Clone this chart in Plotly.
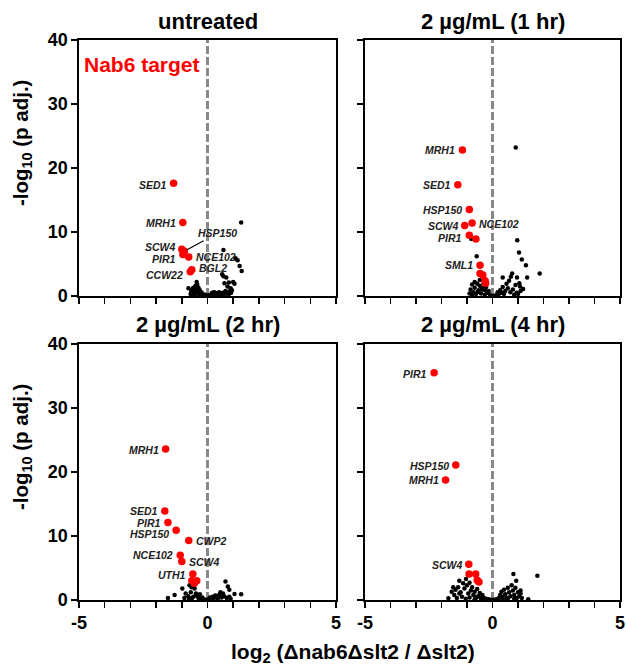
import plotly.graph_objects as go

# ---------------- data ----------------
titles = ["untreated", "2 µg/mL (1 hr)", "2 µg/mL (2 hr)", "2 µg/mL (4 hr)"]
x_tick_vals = [-5, -4, -3, -2, -1, 0, 1, 2, 3, 4, 5]
x_tick_text = ["-5", "", "", "", "", "0", "", "", "", "", "5"]
y_tick_vals = [0, 10, 20, 30, 40]

# untreated
p1_bx = [1.31, 0.62, 1.09, 1.17, 1.25, 1.33, 0.57, 0.73, 0.62, 0.66, 0.83, 1.0, 1.05, 0.78, 0.9, 0.92, 0.95, 0.85,
         0.7, 0.6, 0.5, 0.45, 0.38, 0.3, 0.22, 0.15, 0.08, 0.02, -0.05, -0.1, -0.15, -0.2, -0.25, -0.3, -0.35, -0.4,
         -0.42, -0.46, -0.5, -0.55, -0.57, -0.6, -0.63, -0.66, -0.74, -0.48, -0.38, -0.33, -0.28, -0.52, 0.35, 0.42,
         0.55, 0.65, 0.75, 0.82, -0.45, -0.36, -0.4, -0.5, 0.25, 0.18]
p1_by = [11.5, 7.2, 5.9, 5.6, 4.7, 3.9, 3.4, 2.9, 3.1, 2.0, 2.1, 2.2, 1.9, 1.5, 1.2, 0.5, 0.9, 0.7,
         0.8, 0.5, 0.4, 0.6, 0.3, 0.5, 0.2, 0.3, 0.1, 0.05, 0.1, 0.2, 0.15, 0.4, 0.6, 0.9, 1.3, 1.8,
         2.2, 1.6, 1.0, 0.7, 1.2, 0.4, 0.8, 0.3, 1.2, 0.3, 0.5, 0.2, 0.1, 0.2, 0.1, 0.2,
         0.1, 0.3, 0.4, 0.2, 0.8, 0.9, 1.1, 1.4, 0.6, 0.5]
p1_rx = [-1.32, -0.96, -1.0, -0.9, -0.96, -0.73, -0.67, -0.61]
p1_ry = [17.6, 11.5, 7.3, 7.0, 6.5, 6.1, 3.8, 4.1]
p1_lab = ["SED1", "MRH1", "SCW4", "HSP150", "PIR1", "NCE102", "CCW22", "BGL2"]

# 1 hr
p2_bx = [0.91, -0.62, -0.83, 0.97, 1.04, 1.15, 1.31, 1.85, 1.36, 0.77, 0.72, 0.4, 0.96, 1.08, 1.05, 0.9, 0.6, 0.8,
         1.2, 0.5, 0.35, 0.25, 0.15, 0.05, 0.7, 0.95, 1.1, 0.4, 0.55, 0.65, -0.1, -0.2, -0.3, -0.4, -0.5, -0.6,
         -0.7, -0.8, -0.86, -0.75, -0.65, -0.55, -0.45, -0.35, -0.25, -0.15, -0.9, -0.7, -0.5, -0.42, -0.3, 0.3,
         0.45, 0.85, 1.0, -0.6, -0.8, 0.2]
p2_by = [23.2, 6.2, 8.9, 8.7, 6.8, 5.7, 4.8, 3.5, 2.9, 3.5, 3.0, 2.9, 2.9, 1.5, 2.0, 1.7, 1.2, 1.0,
         1.1, 0.8, 0.5, 0.3, 0.1, 0.05, 0.6, 0.5, 0.8, 1.4, 1.9, 2.4, 0.2, 0.5, 0.9, 1.3, 1.6, 1.9,
         1.3, 1.8, 1.0, 0.6, 0.3, 0.9, 0.4, 2.0, 1.4, 0.8, 0.4, 2.2, 2.5, 1.0, 0.2, 0.9,
         0.3, 0.2, 0.3, 0.6, 0.2, 0.6]
p2_rx = [-1.18, -1.36, -0.91, -0.80, -1.09, -0.91, -0.65, -0.49, -0.49, -0.38, -0.29, -0.27]
p2_ry = [22.8, 17.4, 13.5, 11.4, 11.0, 9.5, 8.9, 4.8, 3.5, 3.3, 2.4, 2.0]
p2_lab = ["MRH1", "SED1", "HSP150", "NCE102", "SCW4", "PIR1", "", "SML1", "", "", "", ""]

# 2 hr
p3_bx = [0.70, 0.79, 0.85, 1.05, 1.31, -0.98, -1.28, -1.54, -0.70, -0.62, -0.47, -0.5, -0.85, -0.75, -0.65, -0.55,
         -0.45, -0.35, -0.25, -0.15, -0.05, 0.05, 0.15, 0.25, 0.35, 0.45, 0.55, 0.6, 0.65, 0.75, 0.5, 0.4, 0.3,
         0.2, 0.85, 0.9, -0.6, -0.4, -0.3, -0.9, -0.72, 0.1, -0.2]
p3_by = [2.9, 2.1, 1.6, 0.94, 0.9, 1.8, 0.8, 0.3, 2.3, 2.0, 2.9, 1.8, 1.0, 0.6, 1.2, 0.5,
         1.0, 0.3, 0.2, 0.1, 0.05, 0.1, 0.2, 0.3, 0.5, 0.8, 0.4, 1.0, 0.6, 0.3, 1.2, 0.2, 0.7,
         0.5, 0.5, 0.2, 0.3, 0.6, 0.9, 0.3, 0.1, 0.4, 0.4]
p3_rx = [-1.63, -1.66, -1.54, -1.22, -0.73, -1.06, -1.0, -0.57, -0.61, -0.42, -0.51]
p3_ry = [23.6, 13.9, 12.1, 10.9, 9.3, 7.0, 6.0, 4.06, 3.0, 3.0, 2.6]
p3_lab = ["MRH1", "SED1", "PIR1", "HSP150", "CWP2", "NCE102", "SCW4", "UTH1", "", "", ""]

# 4 hr
p4_bx = [0.82, 0.93, 1.76, -1.3, -1.04, -1.73, 1.4, -1.6, -1.5, -1.45, -1.35, -1.25, -1.2, -1.1, -1.0, -0.95,
         -0.9, -0.85, -0.8, -0.75, -0.7, -0.65, -0.6, -0.55, -0.5, -0.45, -0.4, -0.35, -0.3, -0.25, -0.15, -0.05,
         -1.15, -0.9, -1.4, -1.3, -0.7, -1.05, -0.6, -1.54, 0.05, 0.15, 0.25, 0.3, 0.35, 0.4, 0.45, 0.5, 0.55,
         0.6, 0.65, 0.7, 0.75, 0.8, 0.85, 0.9, 0.95, 1.0, 1.05, 1.1, 1.15, 0.4, 0.6, 0.85, 1.1]
p4_by = [4.06, 3.0, 3.8, 3.0, 3.3, 0.26, 0.1, 1.3, 0.8, 1.6, 2.0, 1.2, 0.5, 1.8, 2.3, 1.0,
         0.4, 1.5, 2.0, 0.8, 1.3, 0.3, 1.7, 0.6, 1.1, 0.2, 0.8, 0.4, 0.1, 0.2, 0.1, 0.05,
         2.6, 2.7, 0.3, 1.0, 0.1, 0.2, 0.5, 2.0, 0.05, 0.1, 0.3, 0.8, 1.3, 0.5, 1.6, 0.9, 0.3,
         1.9, 1.2, 0.6, 2.3, 1.5, 0.8, 1.9, 0.3, 1.2, 0.6, 1.0, 0.3, 0.1, 0.2, 0.2, 1.5]
p4_rx = [-2.29, -1.44, -1.84, -0.93, -0.92, -0.66, -0.6, -0.53]
p4_ry = [35.5, 21.1, 18.75, 5.6, 4.06, 4.06, 3.1, 2.8]
p4_lab = ["PIR1", "HSP150", "MRH1", "SCW4", "", "", "", ""]

panels = [
    (p1_bx, p1_by, p1_rx, p1_ry, p1_lab),
    (p2_bx, p2_by, p2_rx, p2_ry, p2_lab),
    (p3_bx, p3_by, p3_rx, p3_ry, p3_lab),
    (p4_bx, p4_by, p4_rx, p4_ry, p4_lab),
]

# label placement style: side ('l' / 'r' / 'arrow') and vertical nudge in px, per label
label_style = {
    0: {"SED1": ("l", -2), "MRH1": ("l", -1), "SCW4": ("l", 2), "HSP150": ("arrow", 0), "PIR1": ("l", -5),
        "NCE102": ("r", 0), "CCW22": ("l", -3), "BGL2": ("r", 2)},
    1: {"MRH1": ("l", 0), "SED1": ("l", 0), "HSP150": ("l", 0), "NCE102": ("r", -1), "SCW4": ("l", 0),
        "PIR1": ("l", -3), "SML1": ("l", 0)},
    2: {"MRH1": ("l", -1), "SED1": ("l", 0), "PIR1": ("l", 0), "HSP150": ("l", -4), "CWP2": ("r", -1),
        "NCE102": ("l", 0), "SCW4": ("r", 0), "UTH1": ("l", -1)},
    3: {"PIR1": ("l", -1), "HSP150": ("l", -1), "MRH1": ("l", 0), "SCW4": ("l", -1)},
}

# ---------------- figure ----------------
W, H = 626, 669


def fx(p):
    return p / W


def fy(p):
    return 1 - p / H


FONT = "Liberation Sans, Arial, sans-serif"
LABEL_FONT = dict(family=FONT, size=10.5, color="#222222", weight="bold", style="italic")
fig = go.Figure()

xdoms = [[fx(79), fx(336)], [fx(365), fx(620)], [fx(79), fx(336)], [fx(365), fx(620)]]
ydoms = [[fy(296), fy(40)], [fy(296), fy(40)], [fy(600), fy(344)], [fy(600), fy(344)]]

for i, (bx, by, rx, ry, lab) in enumerate(panels):
    n = i + 1
    xa = "x" if n == 1 else f"x{n}"
    ya = "y" if n == 1 else f"y{n}"
    fig.add_trace(go.Scatter(x=bx, y=by, mode="markers", xaxis=xa, yaxis=ya, cliponaxis=False,
                             marker=dict(color="black", size=4.5), showlegend=False, hoverinfo="skip"))
    fig.add_trace(go.Scatter(x=rx, y=ry, mode="markers", xaxis=xa, yaxis=ya, cliponaxis=False,
                             marker=dict(color="#ff0000", size=7.5), showlegend=False, hoverinfo="skip"))
    for gx, gy, name in zip(rx, ry, lab):
        if not name:
            continue
        side, dy = label_style[i][name]
        if side == "arrow":
            fig.add_annotation(x=gx, y=gy, xref=xa, yref=ya, text=name, showarrow=True,
                               arrowhead=0, arrowwidth=1.2, arrowcolor="black", ax=33, ay=-18, standoff=3,
                               font=LABEL_FONT)
        else:
            fig.add_annotation(x=gx, y=gy, xref=xa, yref=ya, text=name, showarrow=False,
                               xanchor="right" if side == "l" else "left", yanchor="middle",
                               xshift=-5 if side == "l" else 5, yshift=dy, font=LABEL_FONT)

    axis_common = dict(showline=True, linecolor="black", linewidth=1.6, mirror=True, ticks="outside",
                       ticklen=6, tickwidth=1.5, tickcolor="black", showgrid=False, zeroline=False,
                       automargin=False,
                       tickfont=dict(family=FONT, size=18, color="black", weight="bold"))
    xkey = "xaxis" if n == 1 else f"xaxis{n}"
    ykey = "yaxis" if n == 1 else f"yaxis{n}"
    fig.update_layout(**{
        xkey: dict(axis_common, domain=xdoms[i], range=[-5, 5], anchor=ya, tickvals=x_tick_vals,
                   ticktext=x_tick_text, showticklabels=(n >= 3)),
        ykey: dict(axis_common, domain=ydoms[i], range=[0, 40], anchor=xa, tickvals=y_tick_vals,
                   showticklabels=(n in (1, 3))),
    })
    fig.add_shape(type="line", xref=xa, yref=ya, x0=0, x1=0, y0=0, y1=40, layer="below",
                  line=dict(color="#888888", width=3, dash="8px,3px"))
    fig.add_annotation(text=titles[i], xref="paper", yref="paper",
                       x=sum(xdoms[i]) / 2, y=fy(22) if n <= 2 else fy(324),
                       showarrow=False, xanchor="center", yanchor="middle",
                       font=dict(family=FONT, size=22, color="black", weight="bold"))

# Nab6 target key
fig.add_annotation(text="Nab6 target", xref="paper", yref="paper", x=fx(82), y=fy(64),
                   xanchor="left", yanchor="middle", showarrow=False,
                   font=dict(family=FONT, size=21, color="#ff0000", weight="bold"))

# y-axis titles
for yc in (143, 447):
    fig.add_annotation(text="-log<sub>10</sub> (p adj.)", xref="paper", yref="paper", x=fx(22), y=fy(yc),
                       textangle=-90, showarrow=False, xanchor="center", yanchor="middle",
                       font=dict(family=FONT, size=20.5, color="black", weight="bold"))

# x-axis title
fig.add_annotation(text="log<sub>2</sub> (Δnab6Δslt2 / Δslt2)", xref="paper", yref="paper",
                   x=fx(353), y=fy(653), showarrow=False, xanchor="center", yanchor="middle",
                   font=dict(family=FONT, size=21, color="black", weight="bold"))

fig.update_layout(width=W, height=H, margin=dict(l=0, r=0, t=0, b=0, autoexpand=False),
                  paper_bgcolor="white", plot_bgcolor="white")

fig.write_html("out.html", config={"displayModeBar": False, "staticPlot": True},
               post_script="document.body.style.margin='0';document.body.style.overflow='hidden';")
